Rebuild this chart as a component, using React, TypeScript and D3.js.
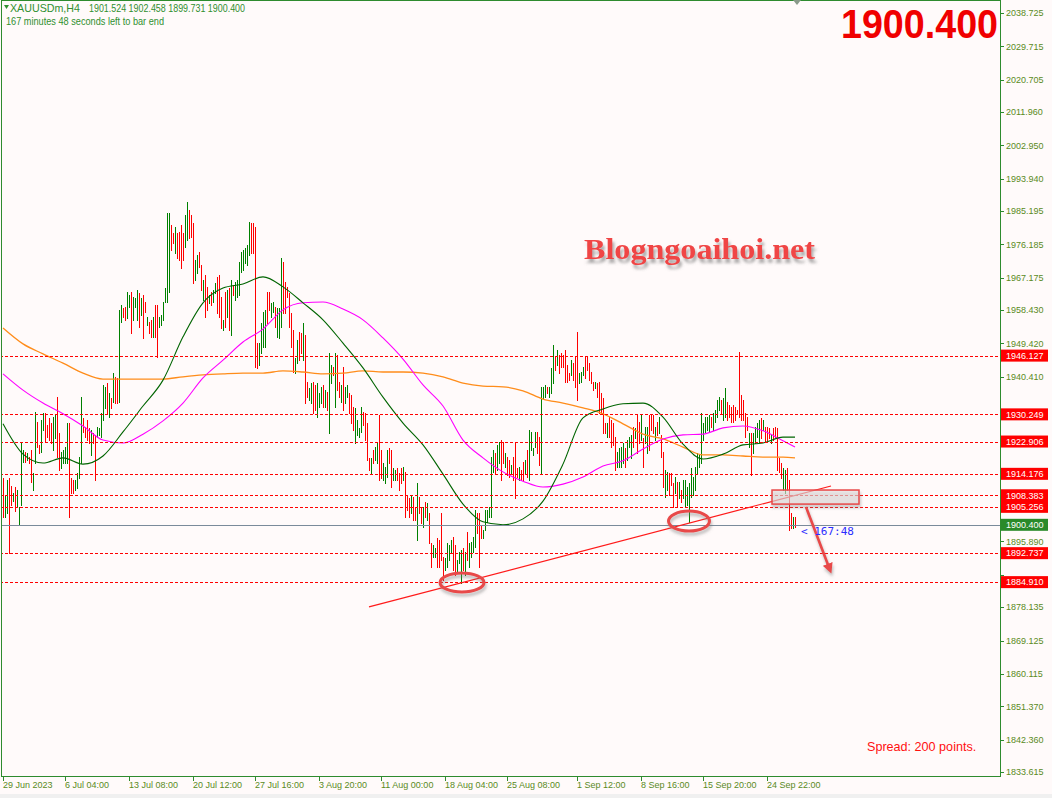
import React from "react";
import * as d3 from "d3";

// ---- Bars (H4): high, low, direction (G = bull, R = bear)
const highs: number[] = [
  1913.0,1908.4,1912.5,1913.0,1910.9,1909.0,1910.6,1909.8,1905.2,1922.7,1920.6,1920.0,1919.8,1918.7,1920.6,1914.4,1930.9,1928.1,1921.9,1928.7,
  1930.6,1930.6,1927.3,1929.2,1927.9,1929.5,1930.0,1934.9,1925.2,1920.0,1920.6,1921.4,1927.9,1927.9,1913.0,1912.5,1912.5,1914.4,1918.7,1934.9,
  1929.2,1926.8,1928.7,1926.5,1926.0,1925.2,1924.6,1926.8,1926.5,
  1930.6,1938.2,1937.6,1938.7,1936.0,1934.6,1941.4,1940.3,1940.0,1958.4,
  1959.8,1959.0,1959.2,1963.3,1962.5,1963.3,1961.9,1961.7,1963.8,1963.0,
  1961.7,1962.5,1960.6,1956.5,1955.2,1955.7,1956.5,1959.8,1959.8,1956.5,
  1957.1,1960.6,1964.4,1984.6,1984.6,1981.4,1979.2,1980.8,1979.2,1979.5,
  1981.4,1979.2,1984.1,1987.6,1985.4,1984.1,1981.9,1971.9,1973.3,1974.1,
  1970.6,1966.5,1967.9,1964.6,1962.5,1963.3,1963.8,1965.7,1967.3,1967.9,
  1961.9,1955.7,1963.3,1963.8,1964.4,1966.5,1965.2,1966.0,1966.5,1971.4,
  1974.1,1974.6,1975.2,1976.0,1982.2,1981.9,1981.9,1980.8,1949.5,1949.5,
  1954.9,1957.9,1958.4,1963.3,1963.3,1960.3,1960.6,1959.2,1959.0,1959.0,
  1972.5,1971.4,1966.0,1964.6,1963.0,1957.6,1953.0,1945.4,1950.3,
  1952.5,1952.2,1954.9,1951.7,1939.0,1937.3,1938.7,1939.0,1938.2,1938.7,
  1936.0,1937.6,1938.2,1936.8,1936.3,1946.8,1943.6,1943.0,1946.8,1946.3,
  1939.0,1938.2,1943.0,1937.6,1938.2,1936.0,1935.5,1932.2,1931.9,1928.7,
  1926.5,1932.2,1930.9,1930.6,1927.9,1918.4,1918.4,1920.6,1921.4,1922.7,
  1930.0,1920.6,1917.1,1916.0,1920.6,1921.1,1920.6,1915.7,1915.2,1915.7,
  1914.4,1915.7,1916.0,1914.6,1908.4,1907.6,1908.4,1907.9,1905.2,1911.7,
  1907.9,1905.2,1905.2,1906.5,1906.3,1903.5,1895.4,1894.9,1894.1,1896.8,
  1896.3,1903.5,1891.7,1891.4,1895.4,1894.9,1896.3,1897.1,1894.9,1890.9,
  1893.0,1893.6,1894.1,1893.0,1898.4,1895.4,1895.7,1897.1,1904.4,1903.5,
  1903.5,1900.3,1899.0,1904.4,1904.4,1905.2,1918.7,1920.6,1919.8,1921.9,
  1922.7,1923.3,1922.7,1919.8,1918.7,1917.9,1916.5,1918.7,1922.5,1915.7,
  1916.0,1915.2,1917.3,1917.9,1920.6,1926.0,1925.4,1921.1,1925.4,1925.4,
  1924.1,1937.6,1937.6,1938.2,1937.6,1937.6,1942.7,1949.0,1945.7,1947.6,
  1946.3,1946.8,1946.3,1947.6,1943.6,1941.4,1944.9,1944.1,1945.7,1952.5,
  1941.4,1941.7,1943.0,1945.7,1945.7,1944.1,1941.7,1939.0,1939.0,1938.7,
  1939.0,1936.0,1934.6,1927.9,1927.9,1929.5,1928.7,1927.9,1924.1,1920.0,
  1921.1,1921.4,1922.5,1921.1,1923.3,1924.1,1924.6,1926.8,1926.5,1930.0,
  1928.1,1930.0,1923.8,1926.8,1926.8,1930.0,1930.0,1930.0,1926.8,1928.1,
  1929.5,1924.6,1920.0,1915.2,1914.6,1914.4,1914.4,1911.7,1913.3,1911.9,
  1911.9,1909.8,1912.5,1912.5,1910.6,1911.7,1915.7,1913.3,1916.0,1919.8,
  1919.3,1930.6,1927.9,1929.5,1929.5,1930.0,1929.5,1930.6,1931.4,1934.1,
  1934.9,1934.1,1934.6,1937.3,1933.6,1932.8,1932.2,1932.8,1932.2,1931.4,
  1947.1,1935.5,1934.1,1930.6,1929.5,1925.2,1925.2,1925.2,1926.8,1927.9,
  1928.7,1929.2,1928.7,1926.8,1926.8,1926.5,1924.6,1926.5,1926.8,1926.5,
  1918.4,1917.1,1915.7,1915.2,1915.7,1912.5,1903.5,1902.5,1902.458,
];
const lows: number[] = [
  1902.5,1902.5,1903.5,1892.7,1905.7,1906.8,1904.1,1905.2,1900.6,1905.7,1917.3,1917.3,1917.9,1917.1,1911.9,1909.8,1917.1,1921.4,1919.8,1920.0,
  1926.0,1922.7,1924.1,1923.3,1922.5,1920.6,1923.8,1918.7,1915.2,1915.7,1917.1,1917.1,1917.1,1902.5,1909.0,1909.0,1909.8,1910.3,1913.0,1917.1,
  1925.4,1924.1,1923.3,1922.5,1919.3,1922.5,1912.5,1924.1,1924.6,
  1924.1,1928.7,1931.9,1930.6,1929.5,1931.9,1933.6,1933.3,1933.3,1933.6,
  1955.2,1956.5,1955.7,1956.3,1959.2,1952.2,1955.7,1959.2,1955.7,1953.8,
  1957.1,1950.9,1957.9,1954.4,1952.2,1951.1,1951.1,1951.1,1945.7,1953.8,
  1954.4,1955.7,1960.6,1960.6,1963.3,1974.6,1976.5,1973.8,1972.5,1971.9,
  1969.8,1971.9,1975.4,1977.3,1977.9,1978.2,1965.7,1966.5,1968.4,1970.0,
  1963.8,1961.1,1956.5,1958.4,1960.3,1959.8,1960.6,1963.0,1957.6,1956.5,
  1953.6,1953.0,1953.8,1956.5,1953.0,1951.7,1962.5,1961.1,1961.9,1962.5,
  1968.7,1969.3,1971.1,1970.6,1973.3,1973.8,1973.8,1943.0,1942.7,1943.6,
  1946.8,1948.4,1948.4,1954.9,1958.4,1956.5,1957.9,1953.8,1951.1,1950.9,
  1953.8,1957.6,1957.6,1961.9,1953.8,1948.4,1941.7,1941.4,1944.1,
  1944.9,1946.8,1944.9,1933.3,1934.9,1934.1,1933.3,1930.6,1931.4,1929.5,
  1932.2,1933.3,1932.2,1932.2,1931.4,1925.2,1938.7,1940.9,1932.2,1936.8,
  1934.9,1933.6,1931.4,1933.3,1934.9,1930.6,1927.9,1926.0,1922.5,1924.6,
  1924.1,1925.4,1927.3,1923.3,1917.9,1915.2,1914.4,1917.1,1917.9,1917.1,
  1912.5,1913.0,1912.5,1911.7,1913.3,1917.1,1910.6,1912.5,1912.5,1912.5,
  1909.8,1911.7,1912.5,1902.5,1904.4,1902.5,1903.5,1901.7,1901.7,1896.3,
  1903.5,1900.9,1899.8,1902.5,1901.7,1895.4,1889.0,1891.7,1891.7,1889.0,
  1889.0,1890.9,1885.5,1888.2,1889.0,1890.9,1892.7,1888.2,1886.8,1887.3,
  1890.0,1884.6,1888.2,1886.8,1890.9,1889.0,1891.7,1893.0,1894.4,1898.1,
  1889.0,1896.8,1896.8,1899.0,1901.1,1902.5,1902.5,1914.6,1914.4,1915.2,
  1917.1,1912.5,1917.1,1916.0,1913.8,1913.3,1914.4,1912.5,1907.6,1913.3,
  1912.5,1912.5,1912.5,1914.4,1913.3,1912.5,1920.6,1919.3,1921.4,1919.8,
  1916.5,1914.4,1934.6,1934.9,1936.0,1934.9,1936.0,1938.7,1942.2,1943.6,
  1941.4,1943.0,1943.0,1939.0,1939.0,1939.5,1940.9,1939.5,1937.6,1934.1,
  1938.7,1939.0,1940.9,1940.0,1942.2,1939.5,1938.7,1936.8,1937.3,1934.9,
  1930.6,1930.6,1925.2,1925.2,1924.1,1924.1,1921.4,1921.9,1915.2,1916.0,
  1916.0,1916.0,1917.1,1916.0,1917.9,1921.4,1918.4,1921.4,1923.8,1919.8,
  1922.5,1923.3,1916.0,1922.5,1919.8,1920.6,1926.0,1925.2,1923.3,1924.6,
  1925.2,1918.7,1910.6,1907.9,1909.8,1908.4,1911.1,1905.2,1909.0,1905.2,
  1907.6,1906.5,1907.6,1905.2,1905.7,1901.1,1907.9,1908.4,1909.8,1914.4,
  1916.0,1917.1,1923.3,1925.4,1926.0,1925.4,1926.8,1926.0,1928.1,1929.5,
  1931.4,1930.6,1928.7,1929.5,1928.7,1929.5,1928.1,1928.1,1928.7,1930.6,
  1929.5,1928.7,1928.7,1924.1,1926.0,1921.4,1913.8,1919.8,1922.5,1924.1,
  1922.7,1923.8,1926.0,1922.7,1923.3,1923.8,1922.5,1923.3,1924.1,1915.2,
  1914.6,1913.0,1909.8,1909.0,1909.8,1899.0,1899.5,1899.5,1899.731,
];
const dirs: string =
  "RGGRRGRGGG" + "GRGRRGGRRG" + "GRRRRGGRRG" + "GGGRRRGGGG" + "RRRRGRRGG" +
  "GGGRGRGRRG" + "GRRGGRGGGR" + "GRRGRRGRRG" + "GGGGGRRGRR" + "RRGGRRRGGR" +
  "RGRRGRGGRR" + "RGRGRGRGGG" + "GGGGGRRRRG" + "GGGRRGGRGG" + "GRRRRRRGG" +
  "RRGRRGGRRG" + "GGRGRGGRGR" + "RGRGGRRRGG" + "GGRRRRGRGG" + "RRGGGRRGGR" +
  "RRGRRRGRRG" + "RRGRGRRGGR" + "RRRGGGGRRG" + "GGRGRGGGGR" + "RRGGGGGGRG" +
  "GRRGRRGRRR" + "GRRGRGGGGR" + "RGGGRGGGRG" + "RRRRRRGRRR" + "GGGRRRRRGR" +
  "RRRRGRRRRG" + "GGGRGGGRGR" + "RGRGGRRRGR" + "GRRGGRRRGR" + "GRGGGGGGGG" +
  "GGGGGGRGGG" + "GRGGRRRRRR" + "RRRRRGRGGG" + "GRGRRRGRRR" + "RRGGRRRGR";

// ---- Moving averages at these bar indices
const maIdx: number[] = [0,10,20,30,40,50,60,70,80,90,100,110,120,130,140,150,160,170,180,190,200,210,220,230,240,250,260,270,280,290,300,310,320,330,340,350,360,370,380,390,396];
const maFast: number[] = [1927.7,1919.5,1917.1,1918.5,1916.8,1919.0,1925.5,1932.5,1939.5,1951.2,1960.4,1964.4,1965.5,1967.4,1964.7,1960.4,1955.8,1949.5,1942.8,1934.9,1927.9,1922.0,1914.1,1906.0,1901.2,1900.4,1902.0,1906.8,1916.8,1929.3,1931.7,1933.1,1933.3,1929.5,1922.2,1918.2,1919.5,1922.0,1922.5,1924.1,1924.1];
const maMid: number[] = [1941.2,1936.8,1933.3,1930.4,1927.1,1923.3,1922.5,1924.9,1928.5,1933.3,1940.1,1944.9,1949.8,1953.3,1958.5,1960.4,1960.6,1958.7,1955.8,1950.9,1945.2,1938.2,1932.5,1923.3,1918.5,1914.7,1912.2,1910.6,1911.4,1913.3,1916.3,1917.7,1920.9,1923.6,1924.7,1924.9,1926.6,1927.1,1925.8,1923.1,1921.4];
const maSlow: number[] = [1953.6,1949.3,1946.6,1944.1,1941.4,1939.8,1939.8,1939.8,1939.8,1940.4,1940.9,1941.2,1941.4,1941.4,1942.0,1941.7,1941.2,1941.4,1942.0,1941.7,1941.7,1941.4,1940.4,1938.7,1937.9,1937.7,1936.6,1934.4,1933.3,1932.0,1930.4,1927.7,1924.9,1923.6,1921.4,1919.3,1919.3,1919.0,1918.7,1918.7,1918.5];

// ---- Levels and axis
const levels: number[] = [1946.127, 1930.249, 1922.906, 1914.176, 1908.383, 1905.256, 1892.737, 1884.910];
const lastPrice = 1900.4;
const ohlc: number[] = [1901.524, 1902.458, 1899.731, 1900.400];
const priceTicks: number[] = [2038.725,2029.715,2020.705,2011.960,2002.950,1993.940,1985.195,1976.185,1967.175,1958.430,1949.420,1940.410,1931.665,1922.655,1913.645,1904.900,1895.890,1886.880,1878.135,1869.125,1860.115,1851.370,1842.360,1833.615];
const timeTickIdx: number[] = [0,31,63,95,126,158,189,221,252,287,319,350,382];
const timeTickLabels: string[] = ["29 Jun 2023","6 Jul 04:00","13 Jul 08:00","20 Jul 12:00","27 Jul 16:00","3 Aug 20:00","11 Aug 00:00","18 Aug 04:00","25 Aug 08:00","1 Sep 12:00","8 Sep 16:00","15 Sep 20:00","24 Sep 22:00"];

// ---- Annotations (bar index, price)
const trendIdx: number[] = [183, 414];
const trendPrice: number[] = [1878.2, 1910.9];
const circleIdx: number[] = [229.5, 343];
const circlePrice: number[] = [1884.8, 1901.4];
const boxIdx: number[] = [384.5, 428];
const boxPrice: number[] = [1909.8, 1906.0];
const arrowIdx: number[] = [401.5, 413.5];
const arrowPrice: number[] = [1905.2, 1888.2];

export default function App() {
  const W = 1052, H = 798;
  const PR = 1000, PB = 776;
  const xs = d3.scaleLinear().domain([0, highs.length - 1]).range([3, 795]);
  const ys = d3.scaleLinear().domain([1832.51, 2042.24]).range([PB, 0]);
  const font = "'Liberation Sans', Arial, sans-serif";
  const axisColor = "#5a8a1c";
  const frame = "#2e8b2e";
  const maPath = (vals: number[]) =>
    d3.line<number>().x((_, k) => xs(maIdx[k])).y((v) => ys(v)).curve(d3.curveMonotoneX)(vals) || "";
  const r = (v: number) => Math.round(v);
  // hide axis labels that sit under a level box, as the terminal does
  const hidden = (p: number) => levels.some((l) => Math.abs(ys(l) - ys(p)) < 9);

  return (
    <svg width={W} height={H} style={{ position: "absolute", left: 0, top: 0, display: "block" }} xmlns="http://www.w3.org/2000/svg">
      <defs>
        <clipPath id="plot"><rect x={1} y={0} width={PR - 1} height={PB} /></clipPath>
        <filter id="wm" x="-10%" y="-30%" width="130%" height="180%">
          <feDropShadow dx="2" dy="4" stdDeviation="1.6" floodColor="#666" floodOpacity="0.55" />
        </filter>
        <filter id="sh" x="-30%" y="-50%" width="160%" height="220%">
          <feDropShadow dx="1" dy="3" stdDeviation="1.5" floodColor="#777" floodOpacity="0.5" />
        </filter>
        <marker id="ah" markerWidth="4" markerHeight="4" refX="2.5" refY="2" orient="auto" markerUnits="strokeWidth">
          <path d="M0,0 L4,2 L0,4 z" fill="#e84848" />
        </marker>
      </defs>
      <rect x={0} y={0} width={W} height={H} fill="#fffafa" />
      <rect x={0} y={794} width={W} height={4} fill="#f0f0f0" />

      {/* header */}
      <polygon points="4,5 9,5 6.5,9" fill="#2f8f2f" />
      <text x={10} y={11.5} fontFamily={font} fontSize={10.5} fill="#2f8f2f" textLength={70} lengthAdjust="spacingAndGlyphs">XAUUSDm,H4</text>
      <text x={89} y={11.5} fontFamily={font} fontSize={10.5} fill="#2f8f2f" textLength={156} lengthAdjust="spacingAndGlyphs">{ohlc.map((v) => v.toFixed(3)).join(" ")}</text>
      <text x={6} y={25} fontFamily={font} fontSize={10.5} fill="#2f8f2f" textLength={158} lengthAdjust="spacingAndGlyphs">167 minutes 48 seconds left to bar end</text>

      <g clipPath="url(#plot)">
        {/* bars */}
        <g shapeRendering="crispEdges">
          {highs.map((h, i) => {
            const x = r(xs(i));
            const y1 = r(ys(h));
            const y2 = Math.max(r(ys(lows[i])), y1 + 1);
            return <rect key={i} x={x} y={y1} width={1} height={y2 - y1 + 1} fill={dirs.charAt(i) === "G" ? "#008000" : "#ff0000"} />;
          })}
        </g>
        {/* moving averages */}
        <path d={maPath(maSlow)} fill="none" stroke="#ff8c1a" strokeWidth={1.3} />
        <path d={maPath(maMid)} fill="none" stroke="#ff00ff" strokeWidth={1.1} />
        <path d={maPath(maFast)} fill="none" stroke="#006400" strokeWidth={1.1} />
        {/* levels */}
        <g shapeRendering="crispEdges">
          {levels.map((p) => (
            <line key={p} x1={0} x2={PR} y1={r(ys(p)) + 0.5} y2={r(ys(p)) + 0.5} stroke="#ff0000" strokeWidth={1} strokeDasharray="3,2" />
          ))}
          <line x1={0} x2={PR} y1={r(ys(lastPrice)) + 0.5} y2={r(ys(lastPrice)) + 0.5} stroke="#7a8a9a" strokeWidth={1} />
        </g>
        {/* trendline */}
        <line x1={xs(trendIdx[0])} y1={ys(trendPrice[0])} x2={xs(trendIdx[1])} y2={ys(trendPrice[1])} stroke="#ff1a1a" strokeWidth={1.2} />
        {/* ellipses */}
        {circleIdx.map((ci, k) => (
          <ellipse key={k} cx={xs(ci)} cy={ys(circlePrice[k])} rx={k === 0 ? 22 : 20.5} ry={k === 0 ? 9.5 : 10} fill="none" stroke="#e84848" strokeWidth={3} filter="url(#sh)" />
        ))}
        {/* box */}
        <rect x={xs(boxIdx[0])} y={ys(boxPrice[0])} width={xs(boxIdx[1]) - xs(boxIdx[0])} height={ys(boxPrice[1]) - ys(boxPrice[0])} fill="#e6e0e0" fillOpacity={0.55} stroke="#e84848" strokeWidth={1.5} filter="url(#sh)" />
        {/* arrow */}
        <line x1={xs(arrowIdx[0])} y1={ys(arrowPrice[0])} x2={xs(arrowIdx[1])} y2={ys(arrowPrice[1])} stroke="#e84848" strokeWidth={2.6} markerEnd="url(#ah)" filter="url(#sh)" />
        <text x={801} y={535} fontFamily="'DejaVu Sans Mono', monospace" fontSize={11} fill="#2c2cff">{"< 167:48"}</text>
      </g>

      {/* watermark */}
      <text x={584} y={259} fontFamily="'Liberation Serif', 'Times New Roman', serif" fontWeight="bold" fontSize={30} fill="#f04444" textLength={231} lengthAdjust="spacingAndGlyphs" filter="url(#wm)">Blogngoaihoi.net</text>

      {/* big price */}
      <text x={841} y={38} fontFamily={font} fontWeight="bold" fontSize={40} fill="#f00000" textLength={157} lengthAdjust="spacingAndGlyphs">{lastPrice.toFixed(3)}</text>

      <text x={867} y={751} fontFamily={font} fontSize={12.6} fill="#ff1010">Spread: 200 points.</text>

      {/* frame */}
      <g shapeRendering="crispEdges" stroke={frame} strokeWidth={1} fill="none">
        <line x1={1.5} x2={1.5} y1={0} y2={PB + 1} />
        <line x1={PR + 0.5} x2={PR + 0.5} y1={0} y2={PB + 1} />
        <line x1={1} x2={PR + 1} y1={PB + 0.5} y2={PB + 0.5} />
        <line x1={1} x2={PR + 1} y1={0.5} y2={0.5} />
      </g>
      <polygon points={`${r(xs(397)) - 4},0 ${r(xs(397)) + 4},0 ${r(xs(397))},5`} fill="#8a9a8a" />

      {/* right axis */}
      <g shapeRendering="crispEdges">
        {priceTicks.map((p) => (
          <g key={p}>
            <line x1={PR} x2={PR + 4} y1={r(ys(p)) + 0.5} y2={r(ys(p)) + 0.5} stroke={frame} />
            {!hidden(p) && (
              <text x={1006} y={ys(p) + 3.3} fontFamily={font} fontSize={9} fill={axisColor}>{p.toFixed(3)}</text>
            )}
          </g>
        ))}
      </g>
      {levels.map((p) => (
        <g key={"l" + p}>
          <rect x={1001} y={ys(p) - 6} width={47} height={12} fill="#ff0000" />
          <text x={1006} y={ys(p) + 3.3} fontFamily={font} fontSize={9} fill="#ffffff">{p.toFixed(3)}</text>
        </g>
      ))}
      <rect x={1001} y={ys(lastPrice) - 6} width={47} height={12} fill="#2a8a2a" />
      <text x={1006} y={ys(lastPrice) + 3.3} fontFamily={font} fontSize={9} fill="#ffffff">{lastPrice.toFixed(3)}</text>

      {/* bottom axis */}
      {timeTickIdx.map((ti, k) => (
        <g key={ti}>
          <line x1={r(xs(ti)) + 0.5} x2={r(xs(ti)) + 0.5} y1={PB} y2={PB + 5} stroke={frame} shapeRendering="crispEdges" />
          <text x={xs(ti)} y={788} fontFamily={font} fontSize={9} fill={axisColor}>{timeTickLabels[k]}</text>
        </g>
      ))}
    </svg>
  );
}
